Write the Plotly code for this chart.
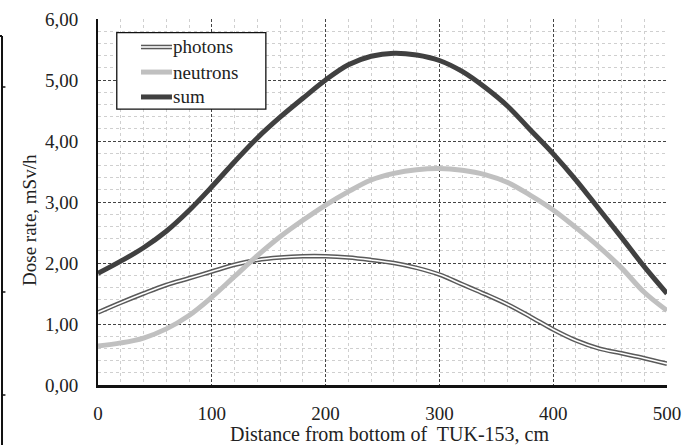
import plotly.graph_objects as go

distance_cm = [0, 20, 40, 60, 80, 100, 120, 140, 160, 180, 200, 220, 240, 260,
               280, 300, 320, 340, 360, 380, 400, 420, 440, 460, 480, 500]
photons = [1.19, 1.35, 1.50, 1.64, 1.75, 1.86, 1.97, 2.05, 2.09, 2.11, 2.11, 2.09, 2.05,
           2.00, 1.92, 1.81, 1.65, 1.49, 1.32, 1.12, 0.91, 0.73, 0.60, 0.52, 0.44, 0.35]
neutrons = [0.64, 0.69, 0.77, 0.92, 1.14, 1.44, 1.78, 2.12, 2.43, 2.70, 2.95, 3.17, 3.36,
            3.47, 3.53, 3.55, 3.52, 3.45, 3.32, 3.11, 2.87, 2.58, 2.27, 1.92, 1.52, 1.22]
dose_sum = [1.83, 2.03, 2.25, 2.52, 2.86, 3.25, 3.66, 4.05, 4.39, 4.70, 5.00, 5.25, 5.39,
            5.44, 5.41, 5.32, 5.14, 4.88, 4.57, 4.18, 3.79, 3.36, 2.89, 2.42, 1.94, 1.50]
legend_labels = ["photons", "neutrons", "sum"]
x_title = "Distance from bottom of  TUK-153, cm"
y_title = "Dose rate, mSv/h"

FONT = "Liberation Serif, Times New Roman, serif"
TXT = "#222222"
C_PH = "#5a5a5a"
C_NE = "#c0c0c0"
C_SUM = "#404040"
SM = 1.0

fig = go.Figure()
fig.add_trace(go.Scatter(x=distance_cm, y=photons, mode="lines",
                         line=dict(color=C_PH, width=4.6, shape="spline", smoothing=SM),
                         showlegend=False, hoverinfo="skip"))
fig.add_trace(go.Scatter(x=distance_cm, y=photons, mode="lines",
                         line=dict(color="white", width=1.6, shape="spline", smoothing=SM),
                         showlegend=False, hoverinfo="skip"))
fig.add_trace(go.Scatter(x=distance_cm, y=neutrons, mode="lines",
                         line=dict(color=C_NE, width=5, shape="spline", smoothing=SM),
                         showlegend=False))
fig.add_trace(go.Scatter(x=distance_cm, y=dose_sum, mode="lines",
                         line=dict(color=C_SUM, width=5, shape="spline", smoothing=SM),
                         showlegend=False))

shapes = []
annotations = []
# custom legend box (paper coords)
shapes.append(dict(type="rect", xref="paper", yref="paper", x0=0.033, x1=0.295,
                   y0=0.754, y1=0.9626, line=dict(color="#111111", width=1.3),
                   fillcolor="white", layer="above"))
rows_y = [0.9235, 0.855, 0.787]
sx0, sx1 = 0.0756, 0.130
styles = [[(C_PH, 4.6), ("white", 1.6)], [(C_NE, 5)], [(C_SUM, 5)]]
for ry, st, lab in zip(rows_y, styles, legend_labels):
    for col, w in st:
        shapes.append(dict(type="line", xref="paper", yref="paper", x0=sx0, x1=sx1,
                           y0=ry, y1=ry, line=dict(color=col, width=w), layer="above"))
    annotations.append(dict(xref="paper", yref="paper", x=0.129, y=ry, text=lab,
                            showarrow=False, xanchor="left", yanchor="middle",
                            font=dict(family=FONT, size=19, color=TXT)))

# axis titles
annotations.append(dict(xref="paper", yref="paper", x=0.513, y=-0.133, text=x_title,
                        showarrow=False, xanchor="center", yanchor="middle",
                        font=dict(family=FONT, size=20, color=TXT)))
annotations.append(dict(xref="paper", yref="paper", x=-0.1195, y=0.451, text=y_title,
                        showarrow=False, xanchor="center", yanchor="middle", textangle=-90,
                        font=dict(family=FONT, size=19, color=TXT)))

# stray border fragment at the far left of the original page
bx = -0.1687
shapes.append(dict(type="line", xref="paper", yref="paper", x0=bx, x1=bx, y0=0.9536, y1=-0.2,
                   line=dict(color="#111111", width=2)))
shapes.append(dict(type="line", xref="paper", yref="paper", x0=-0.1745, x1=bx, y0=0.9536, y1=0.9536,
                   line=dict(color="#111111", width=2)))
for ty in [(385 - 87) / 366, (385 - 292) / 366, (385 - 395) / 366]:
    shapes.append(dict(type="line", xref="paper", yref="paper", x0=bx, x1=bx + 0.006,
                       y0=ty, y1=ty, line=dict(color="#111111", width=1.5)))

fig.update_layout(
    width=683, height=445, autosize=False,
    margin=dict(l=98, r=16, t=19, b=60, pad=0),
    paper_bgcolor="white", plot_bgcolor="white",
    separators=", ",
    showlegend=False,
    shapes=shapes, annotations=annotations,
    font=dict(family=FONT, size=19, color=TXT),
)
fig.update_xaxes(
    range=[0, 500], dtick=100, tick0=0, showgrid=True, gridcolor="#444444", griddash="3px,2px",
    gridwidth=1, zeroline=False, showline=True, linecolor="#111111", linewidth=2.5,
    ticks="", ticklabelstandoff=9, automargin=False,
    tickfont=dict(family=FONT, size=19, color=TXT),
    minor=dict(dtick=20, tick0=0, showgrid=True, gridcolor="#cfcfcf", griddash="dot", gridwidth=1),
)
fig.update_yaxes(
    range=[0, 6], dtick=1, tick0=0, tickformat=".2f", showgrid=True, gridcolor="#444444",
    griddash="3px,2px", gridwidth=1, zeroline=False, showline=True, linecolor="#111111",
    linewidth=2, ticks="", ticklabelstandoff=14, automargin=False,
    tickfont=dict(family=FONT, size=19, color=TXT),
    minor=dict(dtick=0.2, tick0=0, showgrid=True, gridcolor="#cfcfcf", griddash="dot", gridwidth=1),
)

fig.write_html("out.html", config={"displayModeBar": False},
               post_script="document.body.style.margin='0';document.body.style.overflow='hidden';")
